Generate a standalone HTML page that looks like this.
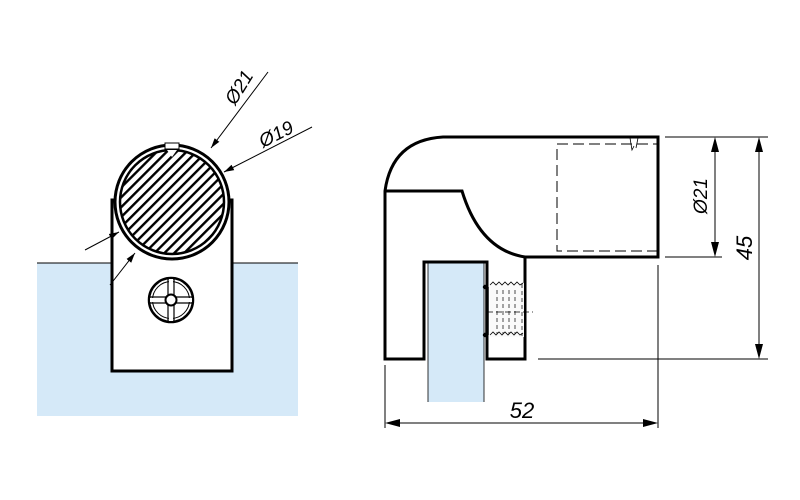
<!DOCTYPE html>
<html><head><meta charset="utf-8"><style>html,body{margin:0;padding:0;background:#fff}svg{display:block}</style></head>
<body>
<svg width="800" height="500" viewBox="0 0 800 500" xmlns="http://www.w3.org/2000/svg" font-family="Liberation Sans, sans-serif">
<defs>
<pattern id="h" patternUnits="userSpaceOnUse" width="7" height="7" patternTransform="rotate(-45)">
<rect width="7" height="7" fill="#fff"/><rect x="0" y="0" width="7" height="2.4" fill="#000"/>
</pattern>
<marker id="a" viewBox="0 0 10 10" refX="10" refY="5" markerWidth="10" markerHeight="10" markerUnits="userSpaceOnUse" orient="auto"><path d="M0,2 L10,5 L0,8 Z" fill="#000"/></marker>
</defs>
<!-- left view -->
<rect x="37" y="263" width="261" height="153" fill="#d5e9f8"/>
<line x1="37" y1="263" x2="298" y2="263" stroke="#000" stroke-width="1"/>
<rect x="112" y="200" width="120" height="171" fill="#fff" stroke="#000" stroke-width="3"/>
<circle cx="172" cy="202" r="57" fill="#fff" stroke="#000" stroke-width="3"/>
<circle cx="172" cy="202" r="52" fill="url(#h)" stroke="#000" stroke-width="2.5"/>
<rect x="165" y="143" width="14" height="6" fill="#fff" stroke="#000" stroke-width="1"/>
<path d="M167,150 L172,157 L177,150Z" fill="#fff"/>
<!-- screw -->
<circle cx="171" cy="300" r="22" fill="#fff" stroke="#000" stroke-width="2.5"/>
<circle cx="171" cy="300" r="18.5" fill="none" stroke="#000" stroke-width="1"/>
<path d="M168,278 V322 M174,278 V322 M149,297 H193 M149,303 H193" stroke="#000" stroke-width="1.2"/>
<rect x="169" y="279" width="4" height="42" fill="#fff"/><rect x="150" y="298" width="42" height="4" fill="#fff"/>
<circle cx="171" cy="300" r="5.5" fill="#fff" stroke="#000" stroke-width="2"/>
<!-- leaders -->
<line x1="268" y1="72" x2="211" y2="148" stroke="#000" stroke-width="1" marker-end="url(#a)"/>
<line x1="312" y1="127" x2="224" y2="172" stroke="#000" stroke-width="1" marker-end="url(#a)"/>
<line x1="85" y1="250" x2="119" y2="232" stroke="#000" stroke-width="1" marker-end="url(#a)"/>
<line x1="110" y1="285" x2="135" y2="253" stroke="#000" stroke-width="1" marker-end="url(#a)"/>
<text x="0" y="0" font-size="19" font-style="italic" transform="translate(235,106) rotate(-58)">Ø21</text>
<text x="0" y="0" font-size="19" font-style="italic" transform="translate(263,148) rotate(-27)">Ø19</text>
<!-- right view -->
<rect x="428" y="262" width="56" height="140" fill="#d5e9f8"/>
<line x1="428" y1="262" x2="428" y2="402" stroke="#000" stroke-width="0.8"/>
<line x1="484" y1="262" x2="484" y2="402" stroke="#000" stroke-width="0.8"/>
<path d="M385,191 Q392,140 443,137 L658,137 L658,257 L525,257 L525,359 L487,359 L487,262 L424,262 L424,359 L385,359 Z" fill="none" stroke="#000" stroke-width="3" stroke-linejoin="miter"/>
<path d="M385,191 L462,191 Q480,250 525,257" fill="none" stroke="#000" stroke-width="3"/>
<rect x="557" y="144" width="101" height="107" fill="none" stroke="#000" stroke-width="1" stroke-dasharray="11,5"/>
<path d="M630,138 L632,150 L634,146 M638,138 L636,148" stroke="#000" stroke-width="0.8" fill="none"/>
<!-- thread -->
<rect x="490" y="283" width="34" height="54" fill="#fafafa"/>
<path d="M490,285 l3,-3 l3,3 l3,-3 l3,3 l3,-3 l3,3 l3,-3 l3,3 l3,-3 l3,3 l3,-2 M490,335 l3,-3 l3,3 l3,-3 l3,3 l3,-3 l3,3 l3,-3 l3,3 l3,-3 l3,3 l3,-2" stroke="#000" stroke-width="0.8" fill="none"/>
<path d="M522,284 V336 M497,290 V334 M503,290 V334 M509,290 V334 M515,290 V334" stroke="#000" stroke-width="0.7" stroke-dasharray="4,3" fill="none"/>
<line x1="487" y1="312" x2="533" y2="312" stroke="#000" stroke-width="0.8" stroke-dasharray="6,3"/>
<line x1="487" y1="287" x2="487" y2="335" stroke="#000" stroke-width="3.5"/>
<circle cx="485" cy="287" r="2.2"/><circle cx="485" cy="335" r="2.2"/>
<!-- dims -->
<g stroke="#000" stroke-width="1">
<line x1="665" y1="137" x2="768" y2="137"/>
<line x1="538" y1="359" x2="768" y2="359"/>
<line x1="665" y1="257" x2="722" y2="257"/>
<line x1="385" y1="365" x2="385" y2="428"/>
<line x1="658" y1="265" x2="658" y2="428"/>
<line x1="759" y1="150" x2="759" y2="346"/>
<line x1="715" y1="150" x2="715" y2="244"/>
<line x1="398" y1="423" x2="645" y2="423"/>
</g>
<g fill="#000">
<path d="M759,137 l-4,15 h8Z"/><path d="M759,359 l-4,-15 h8Z"/>
<path d="M715,137 l-4,15 h8Z"/><path d="M715,257 l-4,-15 h8Z"/>
<path d="M385,423 l15,-4 v8Z"/><path d="M658,423 l-15,-4 v8Z"/>
</g>
<text x="0" y="0" font-size="19" font-style="italic" text-anchor="middle" transform="translate(707,196) rotate(-90)">Ø21</text>
<text x="0" y="0" font-size="22" font-style="italic" text-anchor="middle" transform="translate(752,248) rotate(-90)">45</text>
<text x="522" y="418" font-size="22" font-style="italic" text-anchor="middle">52</text>
</svg>
</body></html>
